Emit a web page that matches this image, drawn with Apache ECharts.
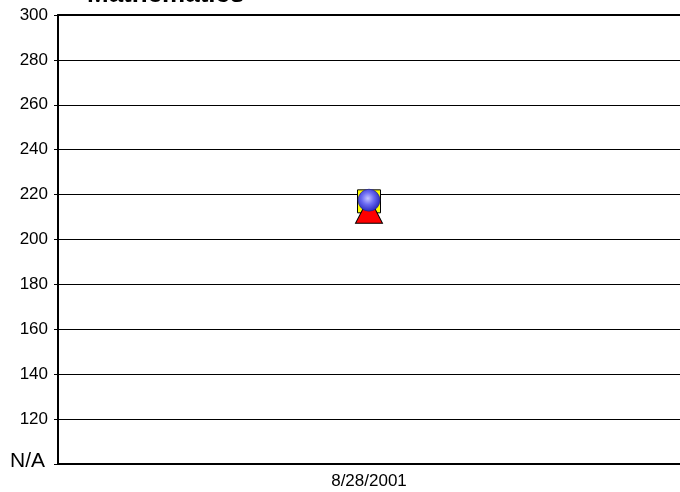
<!DOCTYPE html>
<html>
<head>
    <meta charset="UTF-8">
    <title>Mathematics</title>
    <script src="https://cdn.jsdelivr.net/npm/echarts@6/dist/echarts.min.js"></script>
    <style>
        html, body { margin: 0; padding: 0; background: #fff; }
        #main { width: 680px; height: 492px; }
    </style>
</head>
<body>
    <div id="main"></div>
    <script type="text/javascript">
        // test dates (only one so far)
        var dates = ['8/28/2001'];
        // one value per series
        var squareVals = [217];
        var triangleVals = [213];
        var circleVals = [217.5];
        // y axis: bottom tick means "no score"
        var yMin = 100, yMax = 300, yStep = 20;

        var myChart = echarts.init(document.getElementById('main'));

        var font = 'Arial, "Liberation Sans", sans-serif';

        var option = {
            animation: false,
            title: {
                text: 'Mathematics',
                left: 82,
                top: -23,
                textStyle: { fontFamily: font, fontSize: 26, fontWeight: 'bold', color: '#000' }
            },
            grid: { left: 58, right: 0, top: 15, bottom: 28 },
            xAxis: [{
                type: 'category',
                data: dates,
                position: 'bottom',
                axisLine: { lineStyle: { color: '#000', width: 2 } },
                axisTick: { show: false },
                axisLabel: { fontFamily: font, fontSize: 17, color: '#000', margin: 9 }
            }, {
                type: 'category',
                data: dates,
                position: 'top',
                axisLine: { lineStyle: { color: '#000', width: 2 } },
                axisTick: { show: false },
                axisLabel: { show: false }
            }],
            yAxis: {
                type: 'value',
                min: yMin,
                max: yMax,
                interval: yStep,
                axisLine: { show: true, lineStyle: { color: '#000', width: 2 } },
                axisTick: { show: true, length: 4, lineStyle: { color: '#000' } },
                splitLine: { lineStyle: { color: '#000', width: 1 } },
                axisLabel: {
                    fontFamily: font, fontSize: 17, color: '#000', margin: 10,
                    formatter: function (v) {
                        return v === yMin ? '{na|N/A}' : String(v);
                    },
                    rich: { na: { fontFamily: font, fontSize: 21, color: '#000', padding: [0, 3, 6, 0] } }
                }
            },
            series: [{
                name: 'square',
                type: 'scatter',
                symbol: 'rect',
                symbolSize: 23,
                data: squareVals,
                itemStyle: { color: '#ffff00', borderColor: '#000', borderWidth: 1, opacity: 1 }
            }, {
                name: 'triangle',
                type: 'scatter',
                symbol: 'triangle',
                symbolSize: [27, 26],
                data: triangleVals,
                itemStyle: { color: '#ff0000', borderColor: '#000', borderWidth: 1, opacity: 1 }
            }, {
                name: 'circle',
                type: 'scatter',
                symbol: 'circle',
                symbolSize: 22,
                data: circleVals,
                itemStyle: {
                    opacity: 1,
                    borderColor: '#22227a',
                    borderWidth: 0.6,
                    color: new echarts.graphic.RadialGradient(0.45, 0.42, 0.6, [
                        { offset: 0, color: '#c4c4ff' },
                        { offset: 0.45, color: '#6b6bf2' },
                        { offset: 1, color: '#2323b8' }
                    ])
                }
            }]
        };
        myChart.setOption(option);
    </script>
</body>
</html>
